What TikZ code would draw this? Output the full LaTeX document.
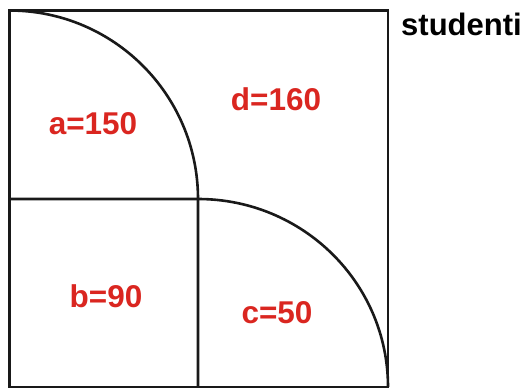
\documentclass[tikz,border=0pt]{standalone}
\usepackage{fontspec}
\setmainfont{Liberation Sans}
\usepackage{xcolor}
\usetikzlibrary{positioning}
\definecolor{setred}{HTML}{DA2620}

\begin{document}
\begin{tikzpicture}[x=1pt,y=-1pt,
    edge/.style={line width=2.6pt,draw=black!90},
    count/.style={font=\fontsize{31.5}{31.5}\selectfont\bfseries,text=setred,inner sep=0pt},
    title/.style={font=\fontsize{31}{31}\selectfont\bfseries,inner sep=0pt}
]
\useasboundingbox (0,0) rectangle (525,388);

% universe
\draw[edge] (9.5,10.5) rectangle (388,387);
% set with a: vertical line, then quarter arc up to the top-left corner
\draw[edge] (198,387) -- (198,199) arc[start angle=0,end angle=-90,radius=188.5];
% set with c: horizontal line, then quarter arc down to the bottom-right corner
\draw[edge] (9.5,199) -- (198,199) arc[start angle=-90,end angle=0,x radius=190,y radius=188];

\node[title] (univ) at (461.5,24) {studenti};

\node[count] (na) at (93,124)  {a=150};
\node[count] (nd) at (276,99)  {d=160};
\node[count] (nb) at (106,296) {b=90};
\node[count] (nc) at (277,313) {c=50};
\end{tikzpicture}
\end{document}
